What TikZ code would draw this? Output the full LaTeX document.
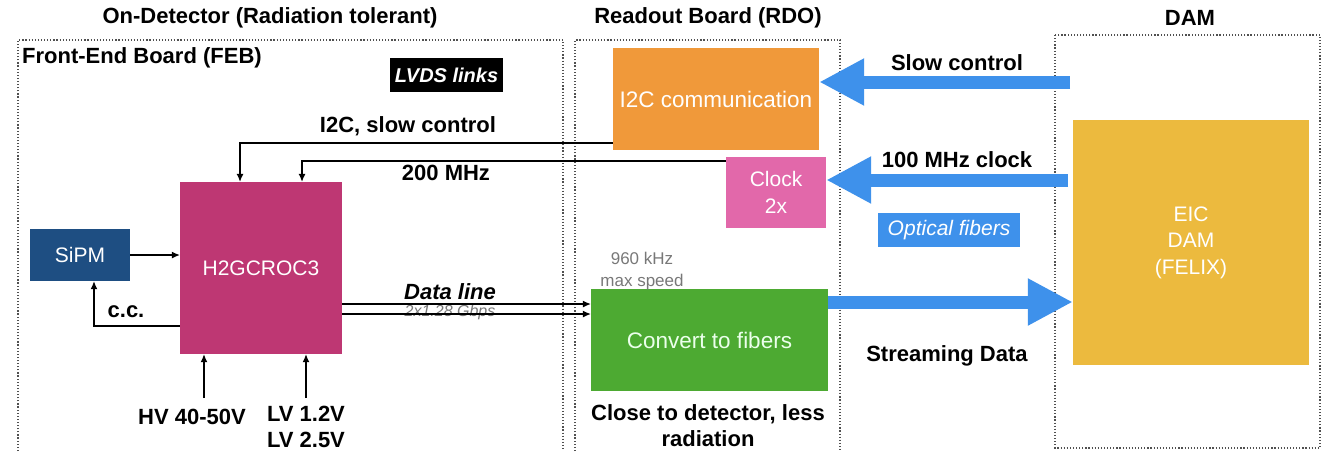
\documentclass[tikz,border=0pt]{standalone}
\usepackage{fontspec}
\setmainfont{Liberation Sans}
\usetikzlibrary{arrows.meta,calc}
\definecolor{cOrange}{RGB}{240,153,58}
\definecolor{cPink}{RGB}{226,104,170}
\definecolor{cMagenta}{RGB}{190,55,115}
\definecolor{cSipm}{RGB}{30,78,130}
\definecolor{cGreen}{RGB}{77,170,50}
\definecolor{cArrow}{RGB}{62,145,235}
\definecolor{cYellow}{RGB}{236,186,62}
\definecolor{cFrame}{RGB}{80,80,80}
\definecolor{cGray}{RGB}{120,120,120}
\begin{document}
\begin{tikzpicture}[x=1pt,y=-1pt,
  box/.style={draw=none, inner sep=0pt, text=white, align=center, font=\fontsize{21}{26.5}\selectfont},
  lbl/.style={inner sep=0pt, align=center, font=\fontsize{22}{26}\selectfont\bfseries},
  frame/.style={draw=cFrame, line width=1.2pt, dash pattern=on 1.2pt off 1.9pt},
  thinarrow/.style={draw=black, line width=1.1pt, -{Latex[length=8pt,width=7pt]}},
  bigarrow/.style={draw=cArrow, line width=13pt, -{Triangle[length=45pt,width=44pt]}},
]
\useasboundingbox (0,0) rectangle (1330,451);

% frames
\draw[frame] (18,451) -- (18,40) -- (563,40) -- (563,451);
\draw[frame] (575,451) -- (575,40) -- (840,40) -- (840,451);
\draw[frame] (1055,35) rectangle (1320,448);

% titles
\node[lbl] (t1) at (270,18) {On-Detector (Radiation tolerant)};
\node[lbl] (t2) at (708,18) {Readout Board (RDO)};
\node[lbl] (t3) at (1190,18) {DAM};
\node[lbl, anchor=west] (feb) at (22,58) {Front-End Board (FEB)};

% boxes
\node[box, fill=cOrange, font=\fontsize{22.5}{26}\selectfont, minimum width=206, minimum height=102] (i2c) at (716,99) {I2C communication};
\node[box, fill=cPink, minimum width=100, minimum height=71] (clk) at (776,192.5) {Clock\\2x};
\node[box, fill=cGreen, text=white!92!green, font=\fontsize{22.5}{26}\selectfont, minimum width=237, minimum height=102] (conv) at (709.5,340) {Convert to fibers};
\node[box, fill=cSipm, minimum width=100, minimum height=52] (sipm) at (80,255) {SiPM};
\node[box, fill=cMagenta, minimum width=162, minimum height=172] (h2g) at (261,268) {H2GCROC3};
\node[box, fill=cYellow, minimum width=236, minimum height=245] (dam) at (1191,242.5) {EIC\\DAM\\(FELIX)};
\node[box, fill=black, font=\fontsize{20}{24}\selectfont\bfseries\itshape, minimum width=113, minimum height=34] (lvds) at (446.5,75) {LVDS links};
\node[box, fill=cArrow, font=\fontsize{21}{24}\selectfont\itshape, minimum width=142, minimum height=34] (opt) at (949,230) {Optical fibers};

% labels
\node[lbl] (li2c) at (408,126) {I2C, slow control};
\node[lbl] (l200) at (446,173) {200 MHz};
\node[lbl, font=\fontsize{22}{26}\selectfont\bfseries\itshape] (ldata) at (450,292) {Data line};
\node[inner sep=0pt, text=cGray, font=\fontsize{16}{19}\selectfont\itshape] (lgbps) at (450,312) {2x1.28 Gbps};
\node[lbl] (lcc) at (126,312) {c.c.};
\node[lbl] (lhv) at (192,417) {HV 40-50V};
\node[lbl] (llv) at (306,427) {LV 1.2V\\LV 2.5V};
\node[inner sep=0pt, align=center, text=cGray, font=\fontsize{17}{22}\selectfont] (l960) at (642,271) {960 kHz\\max speed};
\node[lbl] (lclose) at (708,426) {Close to detector, less\\radiation};
\node[lbl] (lslow) at (957,63) {Slow control};
\node[lbl] (l100) at (957,160) {100 MHz clock};
\node[lbl] (lstream) at (947,356) {Streaming Data};

% thin connectors
\draw[thinarrow] (sipm.east) -- (sipm.east -| h2g.west);
\coordinate (ccy) at (0,326);
\draw[thinarrow] (h2g.west |- ccy) -| ($(sipm.south)+(14,0)$);
\coordinate (hvs) at (204,398);
\draw[thinarrow] (hvs) -- (hvs |- h2g.south);
\coordinate (lvs) at (306,398);
\draw[thinarrow] (lvs) -- (lvs |- h2g.south);
\coordinate (i2cy) at (0,143);
\draw[thinarrow] (i2c.west |- i2cy) -| ($(h2g.north)+(-21,0)$);
\coordinate (clky) at (0,161);
\draw[thinarrow] (clk.west |- clky) -| ($(h2g.north)+(41,0)$);
\coordinate (d1) at (0,304);
\coordinate (d2) at (0,314);
\draw[thinarrow] (h2g.east |- d1) -- (conv.west |- d1);
\draw[thinarrow] (h2g.east |- d2) -- (conv.west |- d2);

% big blue arrows
\coordinate (scs) at (1070,82);
\draw[bigarrow] (scs) -- (i2c.east |- scs);
\coordinate (cks) at (1068,180);
\draw[bigarrow] (cks) -- (clk.east |- cks);
\coordinate (sds) at (0,302);
\draw[bigarrow] (conv.east |- sds) -- (dam.west |- sds);
\end{tikzpicture}
\end{document}
